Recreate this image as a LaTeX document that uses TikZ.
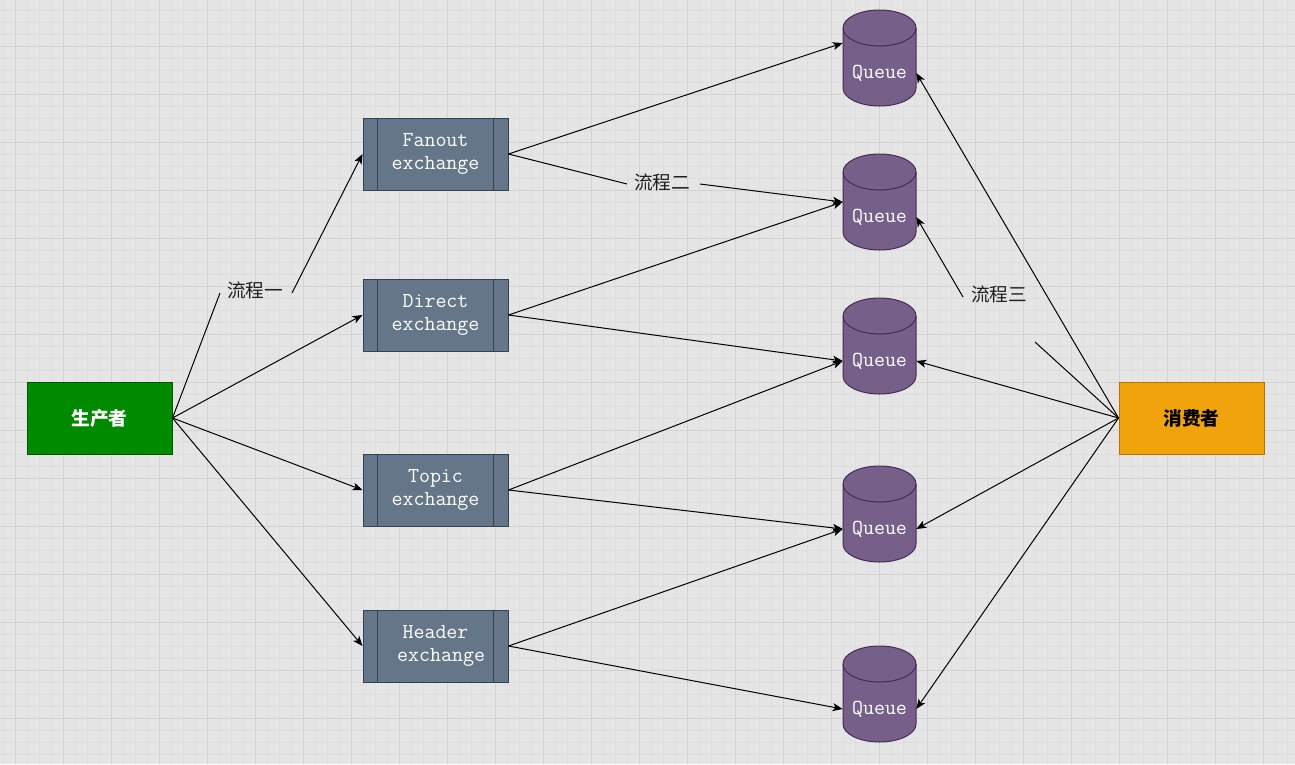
\documentclass[tikz,border=0pt]{standalone}
\usepackage{fontspec}
\newfontfamily\cjk{Noto Sans CJK SC}
\usetikzlibrary{arrows.meta}

\definecolor{bggray}{HTML}{E5E5E5}
\definecolor{gridmajor}{HTML}{D3D3D3}
\definecolor{gridminor}{HTML}{DEDEDE}
\definecolor{prodfill}{HTML}{008A00}
\definecolor{proddraw}{HTML}{005700}
\definecolor{consfill}{HTML}{F0A30A}
\definecolor{consdraw}{HTML}{BD7000}
\definecolor{exfill}{HTML}{647687}
\definecolor{exdraw}{HTML}{314354}
\definecolor{qfill}{HTML}{76608A}
\definecolor{qdraw}{HTML}{432D57}

\tikzset{
  rolebox/.style={rectangle, minimum width=108.75pt, minimum height=54pt, inner sep=0pt, line width=0.75pt, font=\cjk\bfseries\fontsize{14}{16}\selectfont},
  exbox/.style={rectangle, fill=exfill, draw=exdraw, line width=0.75pt, minimum width=108.75pt, minimum height=54pt, inner sep=0pt, text=white, align=center, font=\ttfamily\fontsize{16}{17.25}\selectfont},
  qtext/.style={rectangle, minimum width=54.75pt, minimum height=30pt, inner sep=0pt, text=white, font=\ttfamily\fontsize{16}{17}\selectfont},
  qbody/.style={fill=qfill, draw=qdraw, line width=0.75pt},
  flowlabel/.style={inner sep=0pt, text=black!88, font=\cjk\fontsize{14}{16}\selectfont},
  linkpart/.style={line width=0.75pt},
  link/.style={line width=0.75pt, -{Stealth[length=7.5pt,width=6pt,inset=2pt]}}
}

\begin{document}
\begin{tikzpicture}[x=0.75pt, y=-0.75pt]
\useasboundingbox (0,0) rectangle (1295,764);
\fill[bggray] (0,0) rectangle (1295,764);
\foreach \x in {3.3,15.3,...,1295} \draw[gridminor, line width=0.75pt] (\x,0) -- (\x,764);
\foreach \y in {10,22,...,764} \draw[gridminor, line width=0.75pt] (0,\y) -- (1295,\y);
\foreach \x in {15.3,63.3,...,1295} \draw[gridmajor, line width=0.75pt] (\x,0) -- (\x,764);
\foreach \y in {46,94,...,764} \draw[gridmajor, line width=0.75pt] (0,\y) -- (1295,\y);

\node[rolebox, fill=prodfill, draw=proddraw, text=white] (prod) at (99.5,418) {生产者};
\node[rolebox, fill=consfill, draw=consdraw, text=black] (cons) at (1191.5,418) {消费者};

\node[exbox] (fanout) at (435.5,154) {Fanout\\exchange};
\node[exbox] (direct) at (435.5,315) {Direct\\exchange};
\node[exbox] (topic) at (435.5,490) {Topic\\exchange};
\node[exbox] (header) at (435.5,646) {Header\\\hspace*{0.525em}exchange};
\foreach \e in {fanout,direct,topic,header} {
  \draw[exdraw, line width=0.75pt] ([xshift=11.25pt]\e.north west) -- ([xshift=11.25pt]\e.south west);
  \draw[exdraw, line width=0.75pt] ([xshift=-11.25pt]\e.north east) -- ([xshift=-11.25pt]\e.south east);
}

\foreach \cy/\n in {58/1,202/2,346/3,514/4,694/5} {
  \draw[qbody] (843,\cy-30) -- (843,\cy+30) arc (180:0:36.5 and 18) -- (916,\cy-30) arc (0:-180:36.5 and 18) -- cycle;
  \draw[qbody, fill=none] (843,\cy-30) arc (180:0:36.5 and 18);
  \node[qtext] (q\n) at (879.5,\cy+15) {Queue};
}

\coordinate (f1a) at (220,293);
\coordinate (f1b) at (292,293);
\coordinate (f2a) at (627,184);
\coordinate (f2b) at (700,184);
\coordinate (f3a) at (1035,342);
\coordinate (f3b) at (963,297);

\draw[linkpart] (prod.east) -- (f1a);
\draw[link] (f1b) -- (fanout.west);
\draw[link] (prod.east) -- (direct.west);
\draw[link] (prod.east) -- (topic.west);
\draw[link] (prod.east) -- (header.west);

\draw[link] (fanout.east) -- ([yshift=22.5pt]q1.west);
\draw[linkpart] (fanout.east) -- (f2a);
\draw[link] (f2b) -- ([yshift=11.25pt]q2.west);
\draw[link] (direct.east) -- ([yshift=11.25pt]q2.west);
\draw[link] (direct.east) -- (q3.west);
\draw[link] (topic.east) -- (q3.west);
\draw[link] (topic.east) -- (q4.west);
\draw[link] (header.east) -- (q4.west);
\draw[link] (header.east) -- (q5.west);

\draw[link] (cons.west) -- (q1.east);
\draw[linkpart] (cons.west) -- (f3a);
\draw[link] (f3b) -- (q2.east);
\draw[link] (cons.west) -- (q3.east);
\draw[link] (cons.west) -- (q4.east);
\draw[link] (cons.west) -- (q5.east);

\node[flowlabel] (flow1) at (255,290) {流程一};
\node[flowlabel] (flow2) at (662,182) {流程二};
\node[flowlabel] (flow3) at (999,294) {流程三};
\end{tikzpicture}
\end{document}
